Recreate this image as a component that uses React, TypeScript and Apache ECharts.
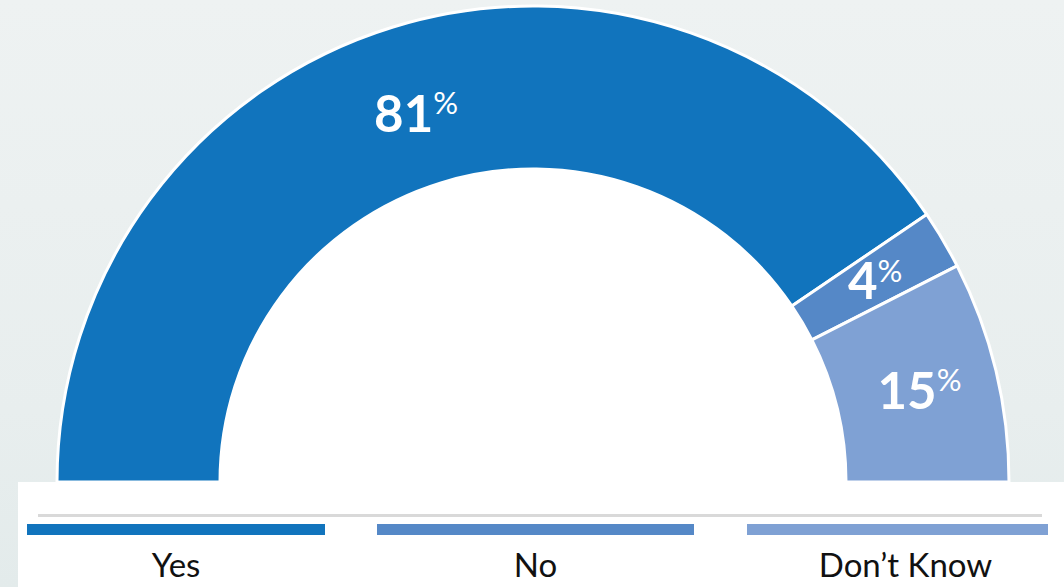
import { useEffect, useRef } from "react";
import * as echarts from "echarts";

// Survey answers shown as a half donut
const categories = ["Yes", "No", "Don’t Know"];
const values = [81, 4, 15];
const colors = ["#1174BD", "#5588C7", "#7FA1D4"];

const FONT = "Lato, 'Open Sans', 'Noto Sans', sans-serif";

const CENTER: [number, number] = [533, 482];
const INNER_R = 313;
const OUTER_R = 476;

export default function App() {
  const ref = useRef<HTMLDivElement>(null);

  useEffect(() => {
    document.body.style.margin = "0";
    const chart = echarts.init(ref.current!, null, { renderer: "svg" });

    // legend columns: coloured bar above a centred caption
    const legendCols = [
      { x: 27, w: 298 },
      { x: 377, w: 317 },
      { x: 747, w: 301 },
    ];
    const legendItems: any[] = [];
    categories.forEach((name, i) => {
      const col = legendCols[i];
      legendItems.push({
        type: "rect",
        shape: { x: col.x, y: 524, width: col.w, height: 11 },
        style: { fill: colors[i] },
        silent: true,
      });
      legendItems.push({
        type: "text",
        x: col.x + col.w / 2 + (i === 2 ? 8 : 0),
        y: 564,
        style: {
          text: name,
          fontSize: 33,
          fontFamily: FONT,
          fill: "#111",
          align: "center",
          verticalAlign: "middle",
          textAlign: "center",
          textVerticalAlign: "middle",
        },
        silent: true,
      });
    });

    chart.setOption({
      animation: false,
      backgroundColor: "transparent",
      graphic: [
        // white bottom panel holding the legend
        {
          type: "rect",
          shape: { x: 18, y: 482, width: 1046, height: 105 },
          style: { fill: "#ffffff" },
          silent: true,
          z: 0,
        },
        // white fill of the donut hole
        {
          type: "circle",
          shape: { cx: CENTER[0], cy: CENTER[1], r: INNER_R },
          style: { fill: "#ffffff" },
          silent: true,
          z: 0,
        },
        {
          type: "rect",
          shape: { x: 38, y: 514, width: 1004, height: 3 },
          style: { fill: "#d9d9d9" },
          silent: true,
        },
        ...legendItems,
      ],
      series: [
        {
          type: "pie",
          center: CENTER,
          radius: [INNER_R, OUTER_R],
          startAngle: 180,
          endAngle: 0,
          clockwise: true,
          silent: true,
          avoidLabelOverlap: false,
          z: 5,
          itemStyle: { borderColor: "#ffffff", borderWidth: 3 },
          emphasis: { disabled: true },
          label: {
            show: true,
            position: "inside",
            formatter: (p: any) => `{v|${p.value}}{p|%}`,
            rich: {
              v: {
                fontSize: 51,
                fontWeight: "bold",
                fontFamily: FONT,
                color: "#ffffff",
              },
              p: {
                fontSize: 31,
                fontFamily: FONT,
                color: "#ffffff",
                verticalAlign: "top",
              },
            },
          },
          labelLine: { show: false },
          labelLayout: (params: any) => (params.dataIndex === 0 ? { dy: 10 } : {}),
          data: categories.map((name, i) => ({
            name,
            value: values[i],
            itemStyle: { color: colors[i] },
          })),
        },
      ],
    });

    return () => chart.dispose();
  }, []);

  return (
    <div
      ref={ref}
      style={{
        width: 1064,
        height: 587,
        background: "linear-gradient(180deg, #eef2f2 0%, #e8eeee 70%, #e3ebeb 100%)",
      }}
    />
  );
}
